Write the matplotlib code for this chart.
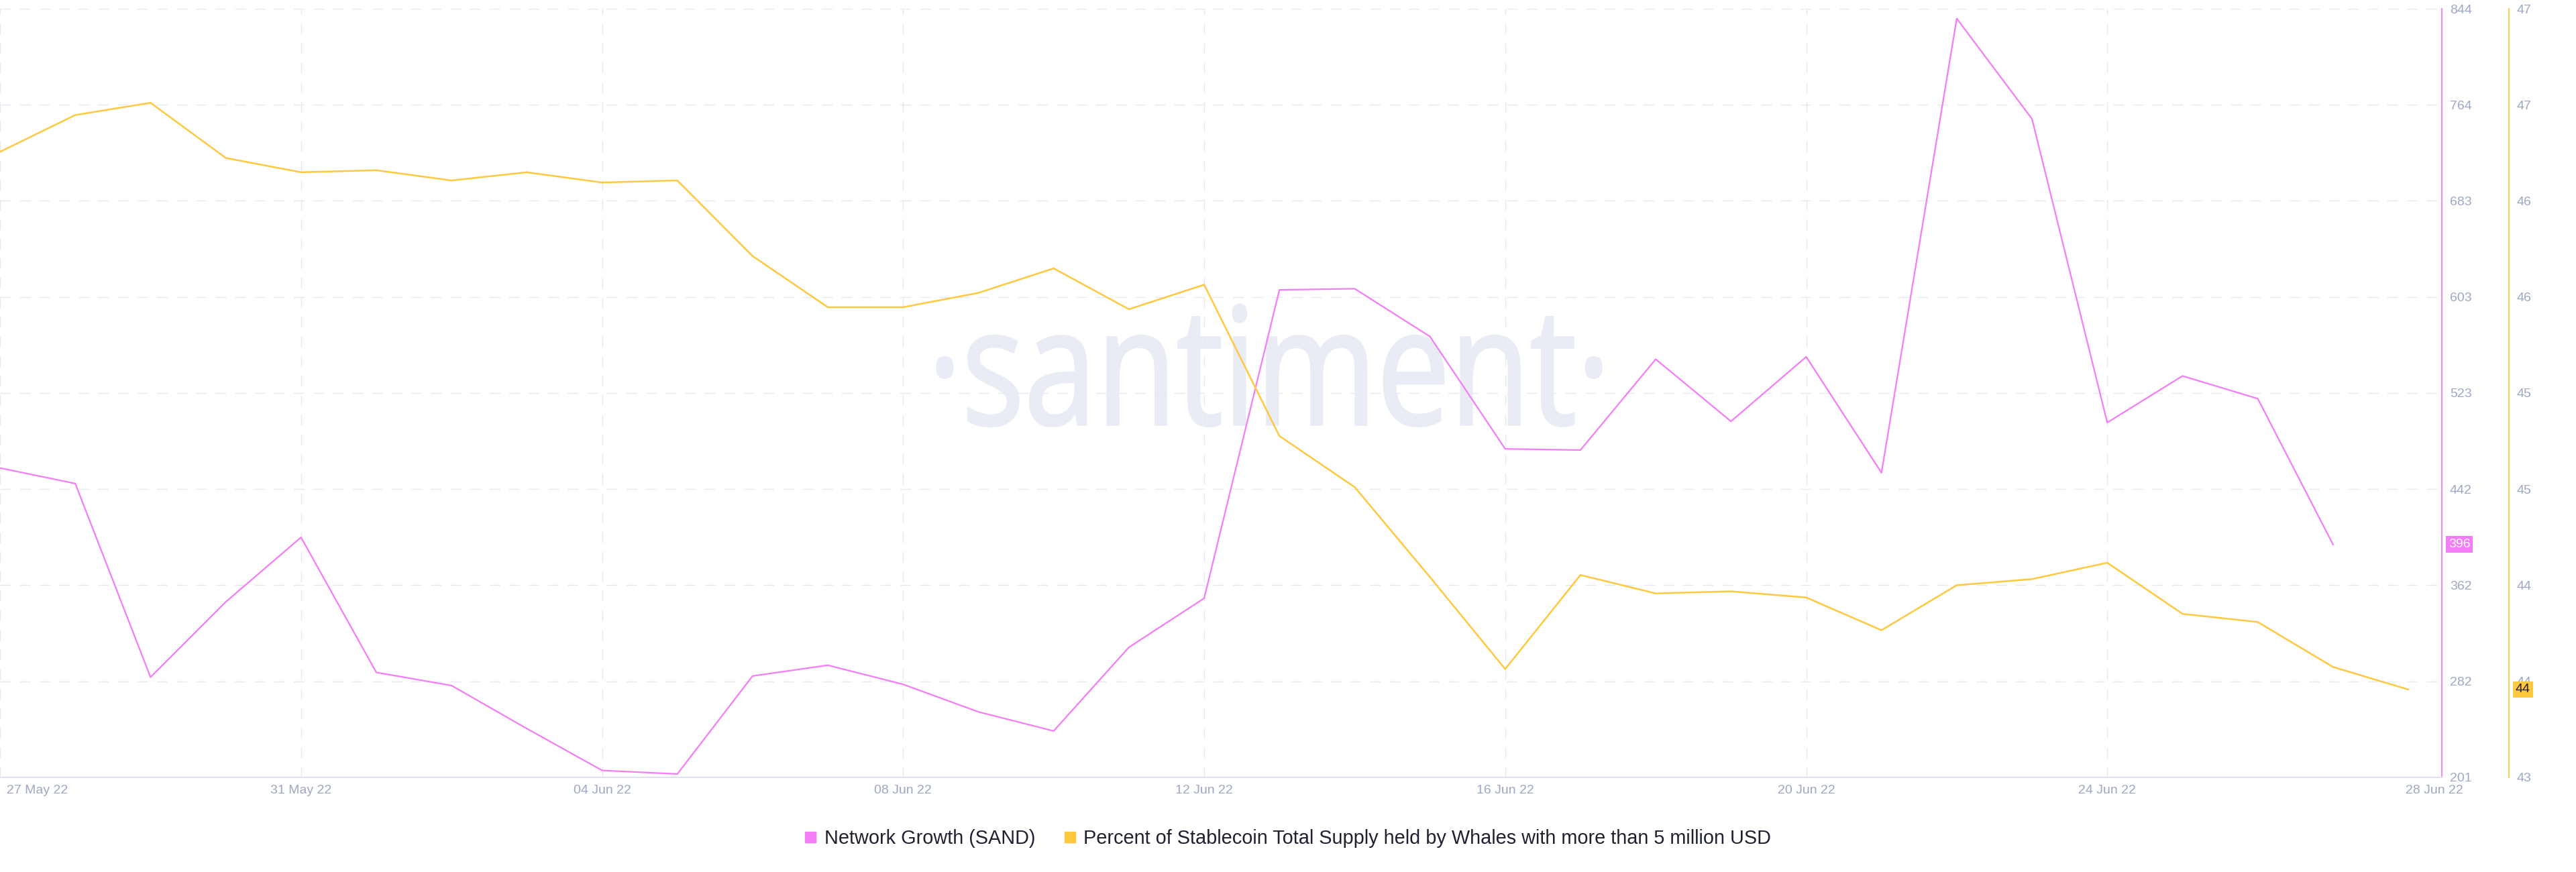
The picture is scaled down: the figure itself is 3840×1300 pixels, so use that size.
import numpy as np
import matplotlib
matplotlib.use("Agg")
import matplotlib.pyplot as plt
import matplotlib.transforms as mtransforms
from matplotlib.lines import Line2D
from matplotlib.textpath import TextPath
from matplotlib.patches import PathPatch
from matplotlib.font_manager import FontProperties
from matplotlib.ticker import FormatStrFormatter

plt.rcParams['font.family'] = ['Liberation Sans', 'DejaVu Sans']

# Daily values starting 27 May 22
network_growth = [460, 447, 285, 348, 402, 289, 278, 242, 207, 204,
                  286, 295, 279, 256, 240, 310, 351, 609, 610, 570,
                  476, 475, 551, 499, 553, 456, 836, 752, 498, 537,
                  518, 396]
whale_share = [46.46, 46.64, 46.70, 46.43, 46.36, 46.37, 46.32, 46.36, 46.31, 46.32,
               45.95, 45.70, 45.70, 45.77, 45.89, 45.69, 45.81, 45.07, 44.82, 44.38,
               43.93, 44.39, 44.30, 44.31, 44.28, 44.12, 44.34, 44.37, 44.45, 44.20,
               44.16, 43.94, 43.83]

tick_days = [0, 4, 8, 12, 16, 20, 24, 28, 32]
tick_labels = ['27 May 22', '31 May 22', '04 Jun 22', '08 Jun 22', '12 Jun 22',
               '16 Jun 22', '20 Jun 22', '24 Jun 22', '28 Jun 22']

series_names = ['Network Growth (SAND)',
                'Percent of Stablecoin Total Supply held by Whales with more than 5 million USD']

PINK = '#F47CF6'
YELLOW = '#FFC83F'
GRID = '#E6E9F2'
TICK = '#9EA8C2'
DASH = (0, (11.5, 9.5))

fig = plt.figure(figsize=(38.4, 13), dpi=100)
ax = fig.add_axes([0, 0.1085, 0.9479, 0.8815])
ax.patch.set_visible(False)
ax2 = ax.twinx()

for a in (ax, ax2):
    for s in a.spines.values():
        s.set_visible(False)

# watermark (condensed, drawn under the axes)
tp = TextPath((0, 0), '\u00b7santiment\u00b7', size=100, prop=FontProperties(family='Open Sans'))
ext = tp.get_extents()
wm_tr = mtransforms.Affine2D().translate(-ext.x0, 0).scale(990 / ext.width, 130 / 53.5).translate(1397, 667)
fig.add_artist(PathPatch(tp, transform=wm_tr, fc='#E9ECF4', ec='#E9ECF4', lw=2.5, zorder=-1))

# lines
ax.plot(range(len(network_growth)), network_growth, color=PINK, lw=1.6, zorder=3)
ax2.plot(range(len(whale_share)), whale_share, color=YELLOW, lw=1.8, zorder=3)

# x axis
ax.set_xlim(0, 32.445)
ax.set_xticks(tick_days)
ax.set_xticklabels(tick_labels)
ax.tick_params(axis='x', length=0, pad=8, labelsize=14, labelcolor=TICK)
for d in tick_days[:-1]:
    ax.axvline(d, color=GRID, lw=1, linestyle=DASH, zorder=1)
ax.spines['bottom'].set_visible(True)
ax.spines['bottom'].set_color('#DDE2EE')
ax.spines['bottom'].set_linewidth(1.6)

xl = ax.get_xticklabels()
xl[0].set_ha('left')
xl[0].set_transform(xl[0].get_transform() + mtransforms.ScaledTranslation(0.1, 0, fig.dpi_scale_trans))
xl[-1].set_ha('left')
xl[-1].set_transform(xl[-1].get_transform() + mtransforms.ScaledTranslation(-0.04, 0, fig.dpi_scale_trans))

# pink axis (right)
ax.set_ylim(201.17, 844.21)
ax.set_yticks(np.linspace(201.17, 844.21, 9))
ax.yaxis.set_major_formatter(FormatStrFormatter('%.0f'))
ax.yaxis.set_ticks_position('right')
ax.yaxis.set_label_position('right')
ax.tick_params(axis='y', length=0, pad=8.6, labelsize=14, labelcolor=TICK)
ax.grid(axis='y', color=GRID, lw=1, linestyle=DASH, zorder=1)
ax.spines['right'].set_visible(True)
ax.spines['right'].set_color(PINK)
ax.spines['right'].set_linewidth(1.3)

# yellow axis (further right)
ax2.set_ylim(43.4, 47.16)
ax2.set_yticks(np.linspace(43.4, 47.16, 9))
ax2.yaxis.set_major_formatter(FormatStrFormatter('%.0f'))
ax2.tick_params(axis='y', length=0, pad=8.6, labelsize=14, labelcolor=TICK)
ax2.spines['right'].set_visible(True)
ax2.spines['right'].set_position(('outward', 72))
ax2.spines['right'].set_color(YELLOW)
ax2.spines['right'].set_linewidth(1.3)

# last value badges
tr_p = mtransforms.blended_transform_factory(ax.transAxes, ax.transData)
ax.text(1.0, network_growth[-1], f'{network_growth[-1]}',
        transform=tr_p + mtransforms.ScaledTranslation(0.1, 0, fig.dpi_scale_trans),
        ha='left', va='center', fontsize=14, color='white', clip_on=False, zorder=5,
        bbox=dict(boxstyle='square,pad=0.2', fc=PINK, ec='none'))
tr_y = mtransforms.blended_transform_factory(ax2.transAxes, ax2.transData)
ax2.text(1.0, whale_share[-1], f'{whale_share[-1]:.0f}',
         transform=tr_y + mtransforms.ScaledTranslation(1.1, 0, fig.dpi_scale_trans),
         ha='left', va='center', fontsize=14, color='#1E1E2A', clip_on=False, zorder=5,
         bbox=dict(boxstyle='square,pad=0.2', fc=YELLOW, ec='none'))

# legend
handles = [Line2D([], [], ls='none', marker='s', markersize=12, color=PINK),
           Line2D([], [], ls='none', marker='s', markersize=12, color=YELLOW)]
fig.legend(handles, series_names, loc='center', bbox_to_anchor=(0.5, 0.0385), ncol=2,
           frameon=False, fontsize=20.8, handlelength=0.6, handletextpad=0.4,
           columnspacing=1.5, labelcolor='#1F2130')

fig.savefig('out.png', dpi=100)
